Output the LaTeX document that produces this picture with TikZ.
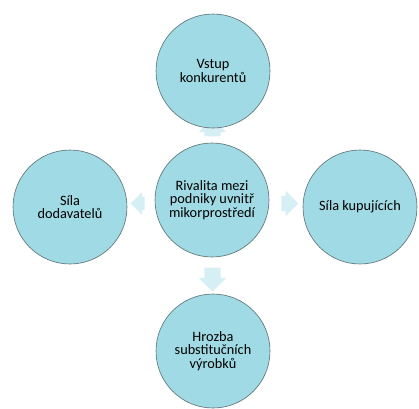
\documentclass[tikz,border=0pt]{standalone}
\usepackage{fontspec}
\setmainfont{Carlito}
\usetikzlibrary{shapes.arrows,backgrounds,calc}
\definecolor{circfill}{RGB}{160,218,228}
\definecolor{arrfill}{RGB}{214,239,244}
\definecolor{circline}{RGB}{90,110,115}

\begin{document}
\begin{tikzpicture}[x=1pt,y=-1pt,
    C/.style = {circle, draw=circline, line width=0.6pt, fill=circfill,% circles of the five forces
                minimum size=114pt, inner sep=0pt, align=center,
                font=\fontsize{14.3}{13.6}\selectfont},
    A/.style = {single arrow, fill=arrfill, draw=none,% light block arrows between them
                minimum height=24pt, inner xsep=0pt, inner ysep=8pt,
                single arrow head extend=5.5pt},
                        ]
\useasboundingbox (0,0) rectangle (419,408);
\node[C] (R) at (212,200) {Rivalita mezi\\podniky uvnitř\\mikorprostředí};
\node[C] (V) at (213,71)  {Vstup\\konkurentů};
\node[C] (D) at (70,207)  {Síla\\dodavatelů};
\node[C] (K) at (360,207) {Síla kupujících};
\node[C] (H) at (213,351) {Hrozba\\substitučních\\výrobků};
\begin{scope}[on background layer]
\node[A, rotate=90, minimum height=18pt] (AV) at ($(R)!0.5!(V) + (0,-4)$) {};
\node[A, rotate=180, minimum height=14pt, inner ysep=6.5pt,
      single arrow head extend=4.5pt] (AD) at ($(R)!0.5!(D)$) {};
\node[A, minimum height=17pt, inner ysep=7.5pt,
      single arrow head extend=5pt] (AK) at ($(R)!0.5!(K)$) {};
\node[A, rotate=-90] (AH) at ($(R)!0.5!(H)$) {};
\end{scope}
\end{tikzpicture}
\end{document}
